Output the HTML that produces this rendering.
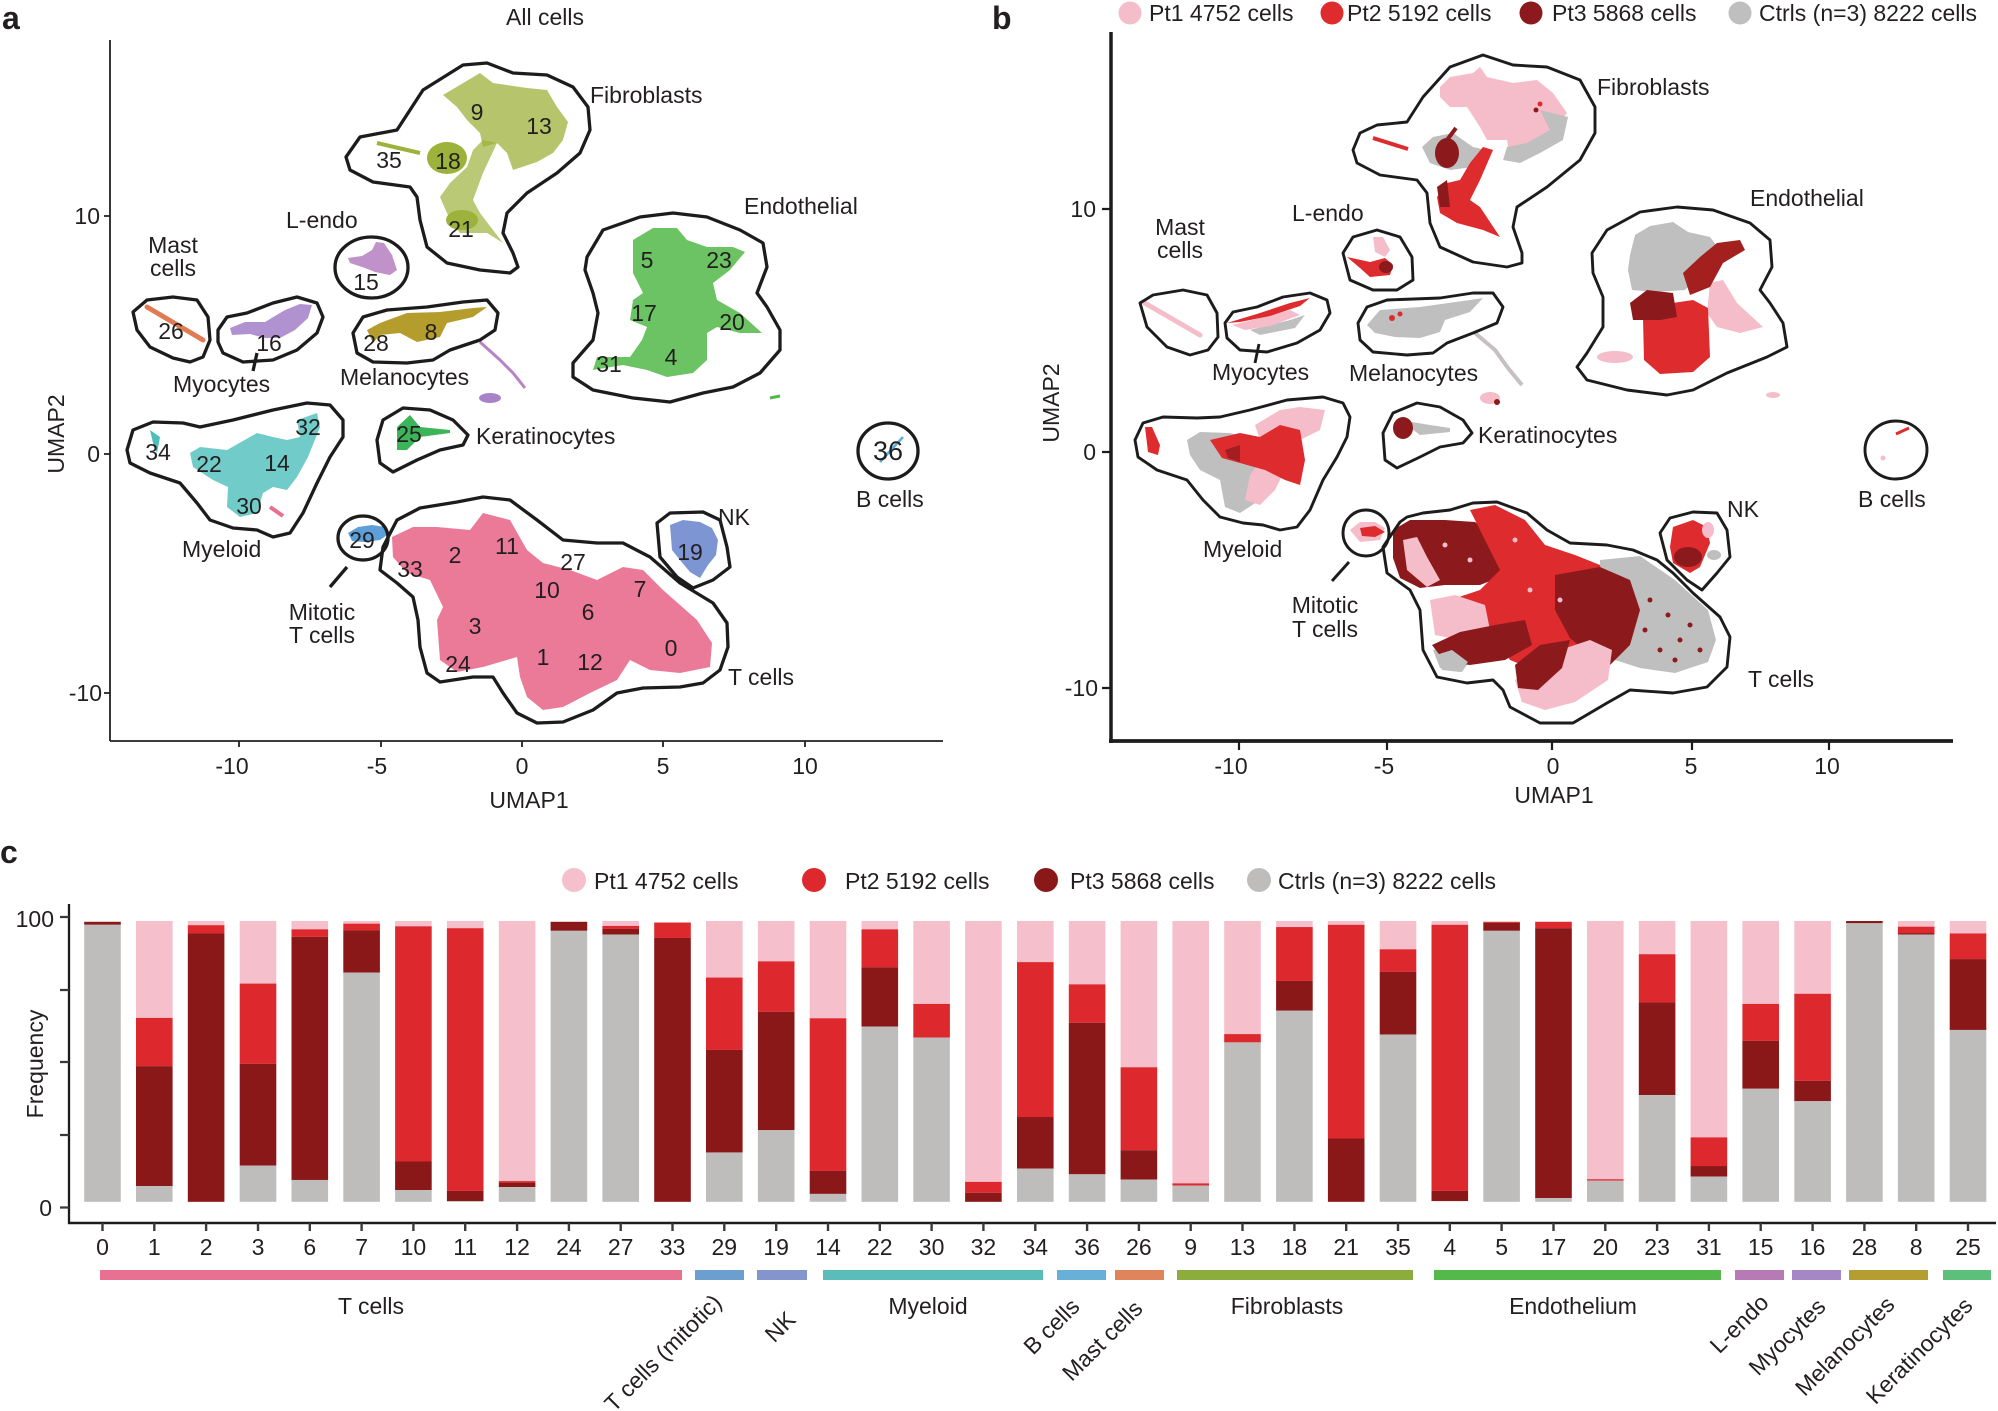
<!DOCTYPE html>
<html><head><meta charset="utf-8"><style>
html,body{margin:0;padding:0;background:#fff;}
svg{display:block;}
text{font-family:"Liberation Sans",Arial,sans-serif;fill:#231f20;font-size:23px;}
.bold{font-weight:bold;font-size:32px;}
.ol{fill:none;stroke:#1c1c1c;stroke-width:3.3;stroke-linejoin:round;}
.olb{fill:none;stroke:#1c1c1c;stroke-width:2.9;stroke-linejoin:round;}
.p{fill:#f5bfcc}.r{fill:#dd292d}.d{fill:#8a1819}.g{fill:#bebdbb}
.n text{text-anchor:middle;}
</style></head><body>
<svg width="1998" height="1411" viewBox="0 0 1998 1411" xmlns="http://www.w3.org/2000/svg">
<rect width="1998" height="1411" fill="#fff"/>

<!-- ================= PANEL A ================= -->
<text class="bold" x="2" y="29">a</text>
<text x="545" y="25" text-anchor="middle">All cells</text>

<g>
  <g fill="#9db23a">
    <polygon fill-opacity="0.75" points="443,95 480,73 493,83 527,88 547,90 557,107 568,122 563,140 553,153 537,162 513,170 507,153 497,143 483,147 480,133 467,120 457,107"/>
    <polygon fill-opacity="0.7" points="483,140 497,143 483,173 473,200 480,213 503,243 487,233 460,233 450,220 440,197 450,183 467,167 473,150"/>
    <ellipse cx="447" cy="158" rx="20" ry="16"/>
    <ellipse cx="462" cy="220" rx="16" ry="10"/>
    <line x1="377" y1="143" x2="420" y2="153" stroke="#9db23a" stroke-width="4"/>
  </g>
  <polygon fill="#52b848" fill-opacity="0.85" points="633,240 653,228 677,228 687,240 707,247 733,247 745,252 730,270 713,283 717,300 740,313 762,333 740,333 717,327 707,333 707,360 693,373 667,377 647,370 623,365 593,370 597,357 630,357 642,340 647,327 630,320 633,300 643,293 633,273"/>
  <line x1="770" y1="398" x2="780" y2="396" stroke="#52b848" stroke-width="3"/>
  <polygon fill="#b67fc0" fill-opacity="0.85" points="348,258 362,256 372,250 376,242 384,243 392,255 397,270 390,275 375,272 365,268 350,263"/>
  <polygon fill="#b59d2d" points="367,330 380,323 407,313 440,312 473,308 487,307 473,317 447,323 440,337 417,342 400,333 380,335 373,343"/>
  <polyline points="480,342 500,360 513,373 525,388" fill="none" stroke="#b882c8" stroke-width="3"/>
  <ellipse cx="490" cy="398" rx="11" ry="5" fill="#a883c8"/>
  <polygon fill="#3cb55a" points="397,427 410,415 420,427 450,430 450,433 420,437 407,450 397,450"/>
  <line x1="147" y1="307" x2="203" y2="340" stroke="#e07b53" stroke-width="5" stroke-linecap="round"/>
  <polygon fill="#a27fc9" fill-opacity="0.85" points="230,328 245,322 265,322 285,310 300,304 312,305 308,318 295,330 280,338 265,338 250,334 232,335"/>
  <polygon fill="#4dbfbb" fill-opacity="0.8" points="190,453 200,447 227,450 257,433 273,437 287,440 300,437 297,420 317,413 320,427 308,457 297,477 287,490 273,487 263,493 257,513 240,517 227,507 228,487 213,480 193,467"/>
  <polygon fill="#4dbfbb" points="150,430 160,437 157,453 153,443"/>
  <line x1="270" y1="507" x2="283" y2="516" stroke="#ea6f8e" stroke-width="4"/>
  <polygon fill="#5d9fd8" points="348,533 358,527 372,525 385,527 390,533 380,540 365,542 352,541"/>
  <polygon fill="#e96f8f" fill-opacity="0.92" points="392,537 413,527 437,527 470,530 483,513 510,520 527,550 543,563 570,570 597,580 623,567 643,570 663,590 697,620 712,643 710,667 680,673 650,670 630,660 617,680 590,693 563,707 543,710 527,697 520,677 517,657 483,667 457,672 440,660 437,620 443,607 430,580 407,573 393,557"/>
  <polygon fill="#7e95d3" points="670,525 683,520 700,522 712,528 718,540 716,555 708,565 700,578 690,572 680,560 672,550"/>
  <line x1="880" y1="462" x2="903" y2="437" stroke="#5aaedd" stroke-width="2.5"/>
</g>

<g>
  <polygon class="ol" points="346,157 360,137 397,130 423,90 463,65 487,63 513,73 547,75 573,87 588,107 590,130 580,153 557,173 527,193 507,213 503,233 513,253 518,267 510,273 480,270 447,263 427,247 420,220 417,197 410,187 373,182 350,170"/>
  <polygon class="ol" points="587,257 603,230 640,217 673,213 707,217 740,230 763,243 767,267 757,293 767,307 780,330 780,350 760,373 733,387 703,393 670,402 633,398 593,390 573,377 573,363 593,340 598,313 593,293 585,270"/>
  <ellipse class="ol" cx="371.5" cy="267.5" rx="36.5" ry="30.5"/>
  <polygon class="ol" points="133,312 147,300 173,297 197,300 208,317 210,340 203,357 190,362 173,358 150,347 137,330"/>
  <polygon class="ol" points="218,330 227,317 247,313 273,303 297,297 317,303 323,317 317,333 297,350 273,360 243,362 223,353 218,342"/>
  <polygon class="ol" points="353,333 363,317 387,310 427,307 463,302 487,300 498,313 495,330 480,340 450,350 433,360 407,363 373,362 357,353"/>
  <polygon class="ol" points="377,440 383,420 403,408 430,410 453,420 468,435 463,445 440,450 417,460 393,472 380,463"/>
  <polygon class="ol" points="127,450 133,430 153,422 183,423 200,427 233,420 273,410 307,403 330,405 343,420 343,437 330,457 317,483 303,513 290,533 273,537 257,530 233,528 210,520 197,503 180,483 150,473 130,463"/>
  <ellipse class="ol" cx="363" cy="538" rx="25" ry="22"/>
  <polygon class="ol" points="380,570 383,547 397,520 420,508 457,502 483,497 510,500 537,520 563,540 597,543 623,543 650,557 680,583 713,603 727,623 728,647 720,670 703,683 680,687 643,688 617,693 593,710 563,722 537,723 517,713 503,693 493,677 473,677 440,682 427,673 420,647 418,620 413,597 397,583"/>
  <polygon class="ol" points="657,523 670,513 703,512 720,520 727,547 730,567 713,580 693,588 677,577 660,557"/>
  <ellipse class="ol" cx="888" cy="451" rx="30" ry="28"/>
  <line class="ol" x1="257" y1="353" x2="253" y2="371"/>
  <line class="ol" x1="347" y1="567" x2="330" y2="587"/>
</g>

<text x="590" y="103">Fibroblasts</text>
<text x="744" y="214">Endothelial</text>
<text x="286" y="228">L-endo</text>
<text x="173" y="253" text-anchor="middle">Mast</text>
<text x="173" y="276" text-anchor="middle">cells</text>
<text x="173" y="392">Myocytes</text>
<text x="340" y="385">Melanocytes</text>
<text x="476" y="444">Keratinocytes</text>
<text x="182" y="557">Myeloid</text>
<text x="322" y="620" text-anchor="middle">Mitotic</text>
<text x="322" y="643" text-anchor="middle">T cells</text>
<text x="728" y="685">T cells</text>
<text x="718" y="525">NK</text>
<text x="856" y="507">B cells</text>
<text x="888" y="460" text-anchor="middle" style="font-size:27px">36</text>

<g class="n">
<text x="477" y="120">9</text><text x="539" y="134">13</text><text x="389" y="168">35</text><text x="448" y="169">18</text>
<text x="461" y="237">21</text><text x="647" y="268">5</text><text x="719" y="268">23</text><text x="644" y="321">17</text>
<text x="732" y="330">20</text><text x="609" y="372">31</text><text x="671" y="365">4</text><text x="366" y="290">15</text>
<text x="171" y="339">26</text><text x="269" y="351">16</text><text x="376" y="351">28</text><text x="431" y="340">8</text>
<text x="409" y="442">25</text><text x="158" y="460">34</text><text x="209" y="472">22</text><text x="277" y="471">14</text>
<text x="308" y="435">32</text><text x="249" y="514">30</text><text x="362" y="548">29</text><text x="455" y="563">2</text>
<text x="507" y="554">11</text><text x="410" y="577">33</text><text x="573" y="570">27</text><text x="547" y="598">10</text>
<text x="640" y="597">7</text><text x="588" y="620">6</text><text x="475" y="634">3</text><text x="671" y="656">0</text>
<text x="458" y="672">24</text><text x="543" y="665">1</text><text x="590" y="670">12</text><text x="690" y="560">19</text>
</g>

<g stroke="#231f20" stroke-width="1.8" fill="none">
  <line x1="110" y1="40" x2="110" y2="741"/>
  <line x1="110" y1="741" x2="943" y2="741"/>
  <path d="M239 741v6M381 741v6M522 741v6M663 741v6M805 741v6M104 216h6M104 454h6M104 693h6"/>
</g>
<text x="232" y="774" text-anchor="middle">-10</text>
<text x="377" y="774" text-anchor="middle">-5</text>
<text x="522" y="774" text-anchor="middle">0</text>
<text x="663" y="774" text-anchor="middle">5</text>
<text x="805" y="774" text-anchor="middle">10</text>
<text x="100" y="224" text-anchor="end">10</text>
<text x="100" y="462" text-anchor="end">0</text>
<text x="102" y="701" text-anchor="end">-10</text>
<text x="529" y="808" text-anchor="middle">UMAP1</text>
<text transform="translate(64,434) rotate(-90)" text-anchor="middle">UMAP2</text>

<!-- ================= PANEL B ================= -->
<text class="bold" x="992" y="29">b</text>
<circle cx="1130" cy="13" r="11.5" fill="#f5bdc9"/>
<text x="1149" y="21">Pt1 4752 cells</text>
<circle cx="1332" cy="13" r="11.5" fill="#dd2b2e"/>
<text x="1347" y="21">Pt2 5192 cells</text>
<circle cx="1531" cy="13" r="11.5" fill="#8c1a1c"/>
<text x="1552" y="21">Pt3 5868 cells</text>
<circle cx="1740" cy="13" r="11.5" fill="#bfbfbf"/>
<text x="1759" y="21">Ctrls (n=3) 8222 cells</text>

<g>
  <!-- fibroblasts -->
  <polygon fill="#f5bdc9" points="1440,87 1450,77 1473,73 1480,67 1487,77 1513,83 1537,80 1553,93 1567,113 1553,130 1530,147 1510,160 1507,140 1487,140 1480,127 1467,107 1450,107 1440,97"/>
  <polygon fill="#bfbfbf" points="1540,110 1568,117 1563,140 1540,153 1520,163 1503,160 1507,147 1527,143 1550,130"/>
  <polygon fill="#bfbfbf" points="1422,147 1433,137 1453,133 1473,147 1487,150 1473,167 1450,170 1430,163"/>
  <polygon fill="#dd2b2e" points="1483,147 1493,150 1480,180 1470,200 1480,207 1500,237 1483,230 1457,223 1440,213 1437,197 1447,183 1460,180 1470,163"/>
  <ellipse cx="1447" cy="153" rx="12" ry="15" fill="#8c1a1c"/>
  <line x1="1447" y1="140" x2="1456" y2="128" stroke="#8c1a1c" stroke-width="4"/>
  <polygon fill="#8c1a1c" points="1437,187 1447,180 1450,207 1440,207"/>
  <line x1="1373" y1="138" x2="1408" y2="149" stroke="#dd2b2e" stroke-width="4"/>
  <circle cx="1540" cy="104" r="2.5" fill="#dd2b2e"/><circle cx="1536" cy="110" r="2.5" fill="#8c1a1c"/>
  <!-- endothelial -->
  <polygon fill="#bfbfbf" points="1630,255 1635,235 1650,226 1673,222 1688,232 1710,237 1720,250 1712,265 1700,275 1685,290 1655,292 1632,290 1628,270"/>
  <polygon fill="#f5bdc9" points="1710,283 1723,280 1737,303 1763,327 1740,333 1717,327 1707,313"/>
  <polygon fill="#dd2b2e" points="1643,318 1673,303 1693,300 1708,308 1710,357 1693,372 1660,374 1644,360"/>
  <polygon fill="#8c1a1c" points="1630,303 1647,290 1673,293 1677,317 1660,320 1633,320"/>
  <polygon fill="#a3201f" points="1683,273 1700,257 1717,243 1740,240 1745,250 1723,263 1710,287 1690,295"/>
  <ellipse cx="1615" cy="357" rx="18" ry="6" fill="#f5bdc9"/>
  <ellipse cx="1773" cy="395" rx="7" ry="3" fill="#f5bdc9"/>
  <!-- L-endo -->
  <polygon fill="#f5bdc9" points="1373,237 1383,237 1390,250 1385,257 1375,252"/>
  <polygon fill="#dd2b2e" points="1347,257 1370,262 1385,258 1393,265 1390,275 1370,277 1360,268"/>
  <ellipse cx="1386" cy="267" rx="7" ry="6" fill="#8c1a1c"/>
  <!-- mast -->
  <line x1="1143" y1="302" x2="1200" y2="335" stroke="#f5bdc9" stroke-width="5" stroke-linecap="round"/>
  <!-- myocytes -->
  <polygon fill="#bfbfbf" points="1250,330 1290,320 1305,315 1295,328 1260,335"/>
  <polygon fill="#f5bdc9" points="1232,325 1260,318 1290,310 1300,315 1270,326 1245,330"/>
  <polygon fill="#dd2b2e" points="1227,323 1260,313 1290,303 1310,298 1300,306 1270,316 1240,322"/>
  <!-- melanocytes -->
  <polygon fill="#bfbfbf" points="1367,325 1380,310 1420,307 1470,300 1483,298 1470,312 1445,320 1440,332 1420,338 1395,337 1375,333"/>
  <circle cx="1392" cy="318" r="3" fill="#dd2b2e"/><circle cx="1400" cy="314" r="2.5" fill="#dd2b2e"/>
  <polyline points="1475,333 1495,350 1508,368 1522,385" fill="none" stroke="#c7c0c0" stroke-width="4"/>
  <ellipse cx="1490" cy="398" rx="10" ry="6" fill="#f5bdc9"/>
  <circle cx="1497" cy="402" r="3" fill="#8c1a1c"/>
  <!-- keratinocytes -->
  <polygon fill="#bfbfbf" points="1400,420 1430,425 1450,428 1450,432 1420,435"/>
  <ellipse cx="1403" cy="428" rx="10" ry="11" fill="#8c1a1c"/>
  <!-- myeloid -->
  <polygon fill="#bfbfbf" points="1187,440 1200,432 1230,433 1255,440 1270,470 1260,500 1240,513 1225,507 1220,480 1200,470 1190,455"/>
  <polygon fill="#f5bdc9" points="1255,425 1280,410 1300,407 1325,410 1320,430 1300,440 1290,460 1275,490 1260,505 1245,500 1250,475 1265,455"/>
  <polygon fill="#dd2b2e" points="1210,440 1240,433 1260,437 1280,425 1300,430 1305,460 1300,485 1285,480 1265,470 1240,463 1222,458"/>
  <polygon fill="#8c1a1c" fill-opacity="0.7" points="1225,450 1240,445 1240,462 1228,458"/>
  <polygon fill="#dd2b2e" points="1145,427 1152,427 1160,445 1158,455 1148,452"/>
  <!-- mitotic -->
  <polygon fill="#f5bdc9" points="1350,530 1360,522 1375,522 1385,528 1380,540 1360,542"/>
  <polygon fill="#dd2b2e" points="1360,528 1375,526 1385,532 1375,537 1362,536"/>
  <!-- T cells -->
  <polygon fill="#bfbfbf" points="1600,560 1640,556 1675,580 1708,610 1716,640 1708,662 1675,673 1640,668 1615,660 1600,620"/>
  <polygon fill="#bfbfbf" points="1433,650 1450,645 1470,660 1462,672 1440,668"/>
  <polygon fill="#8c1a1c" points="1393,530 1410,520 1445,520 1475,522 1500,540 1505,575 1480,585 1445,585 1420,588 1400,578 1393,558"/>
  <polygon fill="#f5bdc9" points="1403,540 1417,537 1427,557 1440,580 1427,587 1407,570"/>
  <polygon fill="#dd2b2e" points="1470,510 1495,505 1525,520 1545,545 1575,555 1600,565 1605,600 1590,640 1560,660 1530,668 1510,660 1490,630 1470,615 1450,600 1480,590 1500,570 1485,540"/>
  <polygon fill="#8c1a1c" points="1555,575 1600,567 1630,580 1640,610 1630,645 1610,665 1590,655 1570,638 1555,610"/>
  <polygon fill="#f5bdc9" points="1430,600 1455,595 1485,605 1490,630 1460,640 1435,635"/>
  <polygon fill="#8c1a1c" points="1432,645 1460,632 1495,625 1525,620 1532,645 1505,660 1470,665 1445,662"/>
  <polygon fill="#bfbfbf" points="1436,655 1452,650 1468,662 1460,672 1442,670"/>
  <polygon fill="#f5bdc9" points="1515,680 1545,655 1590,640 1612,650 1608,680 1575,702 1545,710 1522,702"/>
  <polygon fill="#8c1a1c" points="1515,665 1540,645 1570,640 1562,668 1538,690 1518,688"/>
  <g fill="#8c1a1c">
    <circle cx="1650" cy="600" r="2.5"/><circle cx="1668" cy="615" r="2.5"/><circle cx="1680" cy="640" r="2.5"/>
    <circle cx="1690" cy="625" r="2.5"/><circle cx="1660" cy="650" r="2.5"/><circle cx="1700" cy="650" r="2.5"/>
    <circle cx="1645" cy="630" r="2.5"/><circle cx="1675" cy="660" r="2.5"/>
  </g>
  <g fill="#f5bdc9">
    <circle cx="1470" cy="560" r="2.5"/><circle cx="1530" cy="590" r="2.5"/><circle cx="1560" cy="600" r="2.5"/>
    <circle cx="1515" cy="540" r="2.5"/><circle cx="1445" cy="545" r="2.5"/>
  </g>
  <!-- NK -->
  <polygon fill="#dd2b2e" points="1673,527 1693,520 1707,527 1710,543 1700,567 1690,573 1673,563 1670,547"/>
  <ellipse cx="1688" cy="557" rx="14" ry="10" fill="#8c1a1c"/>
  <ellipse cx="1708" cy="530" rx="6" ry="8" fill="#f5bdc9"/>
  <ellipse cx="1714" cy="555" rx="7" ry="5" fill="#bfbfbf"/>
  <!-- B -->
  <line x1="1896" y1="434" x2="1909" y2="428" stroke="#dd2b2e" stroke-width="3"/>
  <circle cx="1883" cy="458" r="2.5" fill="#f5bdc9"/>
</g>

<g>
  <polygon class="olb" points="1353,150 1360,133 1377,125 1407,122 1423,97 1450,67 1483,55 1513,65 1547,67 1580,80 1595,107 1595,133 1580,160 1547,187 1517,207 1513,227 1522,253 1522,263 1507,267 1473,262 1440,247 1430,223 1427,193 1417,180 1380,175 1357,163"/>
  <polygon class="olb" points="1592,253 1607,230 1640,212 1677,207 1713,210 1750,223 1770,240 1772,267 1760,290 1770,303 1783,323 1787,347 1767,357 1727,373 1693,390 1667,395 1627,390 1587,380 1577,367 1587,353 1603,327 1603,297 1593,273"/>
  <polygon class="olb" points="1343,253 1353,237 1377,230 1400,237 1412,257 1413,280 1397,290 1373,290 1350,280"/>
  <polygon class="olb" points="1140,303 1153,295 1183,290 1207,295 1217,313 1218,337 1208,350 1190,355 1167,347 1147,327"/>
  <polygon class="olb" points="1225,323 1233,312 1257,307 1283,297 1310,293 1327,300 1330,313 1320,330 1297,343 1267,352 1240,350 1227,338"/>
  <polygon class="olb" points="1358,323 1367,307 1387,300 1440,298 1473,293 1493,293 1503,307 1497,323 1473,333 1447,343 1433,353 1407,355 1373,352 1360,340"/>
  <polygon class="olb" points="1383,433 1393,413 1417,403 1440,407 1463,420 1472,433 1463,443 1440,447 1420,457 1397,468 1385,460"/>
  <polygon class="olb" points="1135,440 1143,423 1163,417 1197,418 1220,417 1250,410 1287,400 1323,397 1343,403 1350,417 1347,437 1337,457 1323,480 1310,510 1297,527 1280,530 1263,525 1243,523 1220,517 1203,500 1187,480 1157,470 1138,457"/>
  <ellipse class="olb" cx="1366" cy="533" rx="23" ry="23"/>
  <polygon class="olb" points="1400,522 1383,547 1387,573 1410,590 1420,610 1423,650 1437,677 1467,683 1493,680 1503,690 1510,707 1540,723 1573,723 1607,703 1630,690 1673,693 1707,687 1727,667 1730,637 1720,617 1693,593 1673,573 1657,560 1633,550 1607,545 1570,543 1547,530 1527,513 1497,502 1473,503 1450,510 1423,513 1407,517"/>
  <polygon class="olb" points="1660,533 1670,518 1693,512 1717,513 1727,530 1730,557 1717,573 1702,590 1687,580 1667,560"/>
  <ellipse class="olb" cx="1896" cy="450" rx="31" ry="29"/>
  <line class="olb" x1="1259" y1="344" x2="1255" y2="363"/>
  <line class="olb" x1="1349" y1="562" x2="1332" y2="581"/>
</g>

<text x="1597" y="95">Fibroblasts</text>
<text x="1750" y="206">Endothelial</text>
<text x="1292" y="221">L-endo</text>
<text x="1180" y="235" text-anchor="middle">Mast</text>
<text x="1180" y="258" text-anchor="middle">cells</text>
<text x="1212" y="380">Myocytes</text>
<text x="1349" y="381">Melanocytes</text>
<text x="1478" y="443">Keratinocytes</text>
<text x="1203" y="557">Myeloid</text>
<text x="1325" y="613" text-anchor="middle">Mitotic</text>
<text x="1325" y="637" text-anchor="middle">T cells</text>
<text x="1748" y="687">T cells</text>
<text x="1727" y="517">NK</text>
<text x="1858" y="507">B cells</text>

<g stroke="#1c1c1c" fill="none">
  <line x1="1111" y1="32" x2="1111" y2="743" stroke-width="3.5"/>
  <line x1="1109" y1="741" x2="1953" y2="741" stroke-width="3.8"/>
  <path stroke-width="2.2" d="M1239 741v9M1387 741v9M1552 741v9M1692 741v9M1829 741v9M1102 209h9M1102 452h9M1102 688h9"/>
</g>
<text x="1231" y="774" text-anchor="middle">-10</text>
<text x="1384" y="774" text-anchor="middle">-5</text>
<text x="1553" y="774" text-anchor="middle">0</text>
<text x="1691" y="774" text-anchor="middle">5</text>
<text x="1827" y="774" text-anchor="middle">10</text>
<text x="1096" y="217" text-anchor="end">10</text>
<text x="1096" y="460" text-anchor="end">0</text>
<text x="1098" y="696" text-anchor="end">-10</text>
<text x="1554" y="803" text-anchor="middle">UMAP1</text>
<text transform="translate(1059,403) rotate(-90)" text-anchor="middle">UMAP2</text>

<!-- ================= PANEL C ================= -->
<text class="bold" x="0" y="863">c</text>
<circle cx="574" cy="880" r="12" fill="#f5bfcc"/>
<text x="594" y="889">Pt1 4752 cells</text>
<circle cx="814" cy="880" r="12" fill="#dd292d"/>
<text x="845" y="889">Pt2 5192 cells</text>
<circle cx="1046" cy="880" r="12" fill="#8a1819"/>
<text x="1070" y="889">Pt3 5868 cells</text>
<circle cx="1259" cy="880" r="12" fill="#bebdbb"/>
<text x="1278" y="889">Ctrls (n=3) 8222 cells</text>

<g transform="translate(0,820) scale(1,0.37693)">
<rect class="d" x="84.2" y="270" width="36.6" height="8"/><rect class="g" x="84.2" y="278" width="36.6" height="735"/>
<rect class="p" x="136.0" y="268" width="36.6" height="257"/><rect class="r" x="136.0" y="525" width="36.6" height="128"/><rect class="d" x="136.0" y="653" width="36.6" height="318"/><rect class="g" x="136.0" y="971" width="36.6" height="42"/>
<rect class="p" x="187.8" y="268" width="36.6" height="11"/><rect class="r" x="187.8" y="279" width="36.6" height="22"/><rect class="d" x="187.8" y="301" width="36.6" height="712"/>
<rect class="p" x="239.7" y="268" width="36.6" height="166"/><rect class="r" x="239.7" y="434" width="36.6" height="213"/><rect class="d" x="239.7" y="647" width="36.6" height="270"/><rect class="g" x="239.7" y="917" width="36.6" height="96"/>
<rect class="p" x="291.5" y="268" width="36.6" height="22"/><rect class="r" x="291.5" y="290" width="36.6" height="20"/><rect class="d" x="291.5" y="310" width="36.6" height="645"/><rect class="g" x="291.5" y="955" width="36.6" height="58"/>
<rect class="p" x="343.3" y="268" width="36.6" height="7"/><rect class="r" x="343.3" y="275" width="36.6" height="18"/><rect class="d" x="343.3" y="293" width="36.6" height="112"/><rect class="g" x="343.3" y="405" width="36.6" height="608"/>
<rect class="p" x="395.1" y="268" width="36.6" height="14"/><rect class="r" x="395.1" y="282" width="36.6" height="624"/><rect class="d" x="395.1" y="906" width="36.6" height="76"/><rect class="g" x="395.1" y="982" width="36.6" height="31"/>
<rect class="p" x="446.9" y="268" width="36.6" height="19"/><rect class="r" x="446.9" y="287" width="36.6" height="697"/><rect class="d" x="446.9" y="984" width="36.6" height="27"/><rect class="g" x="446.9" y="1011" width="36.6" height="2"/>
<rect class="p" x="498.8" y="268" width="36.6" height="690"/><rect class="r" x="498.8" y="958" width="36.6" height="4"/><rect class="d" x="498.8" y="962" width="36.6" height="12"/><rect class="g" x="498.8" y="974" width="36.6" height="39"/>
<rect class="d" x="550.6" y="270" width="36.6" height="24"/><rect class="g" x="550.6" y="294" width="36.6" height="719"/>
<rect class="p" x="602.4" y="268" width="36.6" height="13"/><rect class="r" x="602.4" y="281" width="36.6" height="8"/><rect class="d" x="602.4" y="289" width="36.6" height="15"/><rect class="g" x="602.4" y="304" width="36.6" height="709"/>
<rect class="r" x="654.2" y="272" width="36.6" height="41"/><rect class="d" x="654.2" y="313" width="36.6" height="700"/>
<rect class="p" x="706.0" y="268" width="36.6" height="150"/><rect class="r" x="706.0" y="418" width="36.6" height="192"/><rect class="d" x="706.0" y="610" width="36.6" height="272"/><rect class="g" x="706.0" y="882" width="36.6" height="131"/>
<rect class="p" x="757.9" y="268" width="36.6" height="107"/><rect class="r" x="757.9" y="375" width="36.6" height="134"/><rect class="d" x="757.9" y="509" width="36.6" height="314"/><rect class="g" x="757.9" y="823" width="36.6" height="190"/>
<rect class="p" x="809.7" y="268" width="36.6" height="258"/><rect class="r" x="809.7" y="526" width="36.6" height="405"/><rect class="d" x="809.7" y="931" width="36.6" height="61"/><rect class="g" x="809.7" y="992" width="36.6" height="21"/>
<rect class="p" x="861.5" y="268" width="36.6" height="22"/><rect class="r" x="861.5" y="290" width="36.6" height="101"/><rect class="d" x="861.5" y="391" width="36.6" height="157"/><rect class="g" x="861.5" y="548" width="36.6" height="465"/>
<rect class="p" x="913.3" y="268" width="36.6" height="220"/><rect class="r" x="913.3" y="488" width="36.6" height="89"/><rect class="g" x="913.3" y="577" width="36.6" height="436"/>
<rect class="p" x="965.1" y="268" width="36.6" height="692"/><rect class="r" x="965.1" y="960" width="36.6" height="29"/><rect class="d" x="965.1" y="989" width="36.6" height="24"/>
<rect class="p" x="1017.0" y="268" width="36.6" height="109"/><rect class="r" x="1017.0" y="377" width="36.6" height="411"/><rect class="d" x="1017.0" y="788" width="36.6" height="137"/><rect class="g" x="1017.0" y="925" width="36.6" height="88"/>
<rect class="p" x="1068.8" y="268" width="36.6" height="168"/><rect class="r" x="1068.8" y="436" width="36.6" height="102"/><rect class="d" x="1068.8" y="538" width="36.6" height="402"/><rect class="g" x="1068.8" y="940" width="36.6" height="73"/>
<rect class="p" x="1120.6" y="268" width="36.6" height="388"/><rect class="r" x="1120.6" y="656" width="36.6" height="220"/><rect class="d" x="1120.6" y="876" width="36.6" height="78"/><rect class="g" x="1120.6" y="954" width="36.6" height="59"/>
<rect class="p" x="1172.4" y="268" width="36.6" height="696"/><rect class="r" x="1172.4" y="964" width="36.6" height="6"/><rect class="g" x="1172.4" y="970" width="36.6" height="43"/>
<rect class="p" x="1224.2" y="268" width="36.6" height="300"/><rect class="r" x="1224.2" y="568" width="36.6" height="22"/><rect class="g" x="1224.2" y="590" width="36.6" height="423"/>
<rect class="p" x="1276.1" y="268" width="36.6" height="16"/><rect class="r" x="1276.1" y="284" width="36.6" height="143"/><rect class="d" x="1276.1" y="427" width="36.6" height="79"/><rect class="g" x="1276.1" y="506" width="36.6" height="507"/>
<rect class="p" x="1327.9" y="268" width="36.6" height="10"/><rect class="r" x="1327.9" y="278" width="36.6" height="567"/><rect class="d" x="1327.9" y="845" width="36.6" height="168"/>
<rect class="p" x="1379.7" y="268" width="36.6" height="75"/><rect class="r" x="1379.7" y="343" width="36.6" height="60"/><rect class="d" x="1379.7" y="403" width="36.6" height="166"/><rect class="g" x="1379.7" y="569" width="36.6" height="444"/>
<rect class="p" x="1431.5" y="268" width="36.6" height="10"/><rect class="r" x="1431.5" y="278" width="36.6" height="706"/><rect class="d" x="1431.5" y="984" width="36.6" height="27"/>
<rect class="r" x="1483.3" y="270" width="36.6" height="3"/><rect class="d" x="1483.3" y="273" width="36.6" height="21"/><rect class="g" x="1483.3" y="294" width="36.6" height="719"/>
<rect class="r" x="1535.2" y="270" width="36.6" height="17"/><rect class="d" x="1535.2" y="287" width="36.6" height="716"/><rect class="g" x="1535.2" y="1003" width="36.6" height="10"/>
<rect class="p" x="1587.0" y="268" width="36.6" height="685"/><rect class="r" x="1587.0" y="953" width="36.6" height="4"/><rect class="g" x="1587.0" y="957" width="36.6" height="56"/>
<rect class="p" x="1638.8" y="268" width="36.6" height="88"/><rect class="r" x="1638.8" y="356" width="36.6" height="128"/><rect class="d" x="1638.8" y="484" width="36.6" height="246"/><rect class="g" x="1638.8" y="730" width="36.6" height="283"/>
<rect class="p" x="1690.6" y="268" width="36.6" height="574"/><rect class="r" x="1690.6" y="842" width="36.6" height="76"/><rect class="d" x="1690.6" y="918" width="36.6" height="28"/><rect class="g" x="1690.6" y="946" width="36.6" height="67"/>
<rect class="p" x="1742.4" y="268" width="36.6" height="220"/><rect class="r" x="1742.4" y="488" width="36.6" height="98"/><rect class="d" x="1742.4" y="586" width="36.6" height="127"/><rect class="g" x="1742.4" y="713" width="36.6" height="300"/>
<rect class="p" x="1794.3" y="268" width="36.6" height="193"/><rect class="r" x="1794.3" y="461" width="36.6" height="231"/><rect class="d" x="1794.3" y="692" width="36.6" height="54"/><rect class="g" x="1794.3" y="746" width="36.6" height="267"/>
<rect class="d" x="1846.1" y="268" width="36.6" height="6"/><rect class="g" x="1846.1" y="274" width="36.6" height="739"/>
<rect class="p" x="1897.9" y="268" width="36.6" height="15"/><rect class="r" x="1897.9" y="283" width="36.6" height="17"/><rect class="d" x="1897.9" y="300" width="36.6" height="4"/><rect class="g" x="1897.9" y="304" width="36.6" height="709"/>
<rect class="p" x="1949.7" y="268" width="36.6" height="33"/><rect class="r" x="1949.7" y="301" width="36.6" height="68"/><rect class="d" x="1949.7" y="369" width="36.6" height="188"/><rect class="g" x="1949.7" y="557" width="36.6" height="456"/>
</g>

<g fill="none">
  <line x1="69" y1="904" x2="69" y2="1224" stroke="#1c1c1c" stroke-width="2.3"/>
  <line x1="68" y1="1223" x2="1996" y2="1223" stroke="#1c1c1c" stroke-width="2.5"/>
  <path stroke="#3a3a3a" stroke-width="2.2" d="M60 917h9M60 990h9M60 1062h9M60 1135h9M60 1207.5h9"/>
  <path stroke="#3a3a3a" stroke-width="2.4" d="M102.5 1223v8M154.3 1223v8M206.1 1223v8M258 1223v8M309.8 1223v8M361.6 1223v8M413.4 1223v8M465.2 1223v8M517.1 1223v8M568.9 1223v8M620.7 1223v8M672.5 1223v8M724.3 1223v8M776.2 1223v8M828 1223v8M879.8 1223v8M931.6 1223v8M983.4 1223v8M1035.3 1223v8M1087.1 1223v8M1138.9 1223v8M1190.7 1223v8M1242.5 1223v8M1294.4 1223v8M1346.2 1223v8M1398 1223v8M1449.8 1223v8M1501.6 1223v8M1553.5 1223v8M1605.3 1223v8M1657.1 1223v8M1708.9 1223v8M1760.7 1223v8M1812.6 1223v8M1864.4 1223v8M1916.2 1223v8M1968 1223v8"/>
</g>
<text x="54" y="927" text-anchor="end">100</text>
<text x="52" y="1216" text-anchor="end">0</text>
<text transform="translate(43,1064) rotate(-90)" text-anchor="middle">Frequency</text>

<g>
<text x="102.5" y="1255" text-anchor="middle">0</text><text x="154.3" y="1255" text-anchor="middle">1</text><text x="206.1" y="1255" text-anchor="middle">2</text><text x="258" y="1255" text-anchor="middle">3</text>
<text x="309.8" y="1255" text-anchor="middle">6</text><text x="361.6" y="1255" text-anchor="middle">7</text><text x="413.4" y="1255" text-anchor="middle">10</text><text x="465.2" y="1255" text-anchor="middle">11</text>
<text x="517.1" y="1255" text-anchor="middle">12</text><text x="568.9" y="1255" text-anchor="middle">24</text><text x="620.7" y="1255" text-anchor="middle">27</text><text x="672.5" y="1255" text-anchor="middle">33</text>
<text x="724.3" y="1255" text-anchor="middle">29</text><text x="776.2" y="1255" text-anchor="middle">19</text><text x="828" y="1255" text-anchor="middle">14</text><text x="879.8" y="1255" text-anchor="middle">22</text>
<text x="931.6" y="1255" text-anchor="middle">30</text><text x="983.4" y="1255" text-anchor="middle">32</text><text x="1035.3" y="1255" text-anchor="middle">34</text><text x="1087.1" y="1255" text-anchor="middle">36</text>
<text x="1138.9" y="1255" text-anchor="middle">26</text><text x="1190.7" y="1255" text-anchor="middle">9</text><text x="1242.5" y="1255" text-anchor="middle">13</text><text x="1294.4" y="1255" text-anchor="middle">18</text>
<text x="1346.2" y="1255" text-anchor="middle">21</text><text x="1398" y="1255" text-anchor="middle">35</text><text x="1449.8" y="1255" text-anchor="middle">4</text><text x="1501.6" y="1255" text-anchor="middle">5</text>
<text x="1553.5" y="1255" text-anchor="middle">17</text><text x="1605.3" y="1255" text-anchor="middle">20</text><text x="1657.1" y="1255" text-anchor="middle">23</text><text x="1708.9" y="1255" text-anchor="middle">31</text>
<text x="1760.7" y="1255" text-anchor="middle">15</text><text x="1812.6" y="1255" text-anchor="middle">16</text><text x="1864.4" y="1255" text-anchor="middle">28</text><text x="1916.2" y="1255" text-anchor="middle">8</text>
<text x="1968" y="1255" text-anchor="middle">25</text>
</g>

<rect x="100" y="1270" width="582" height="10" fill="#e87090"/>
<rect x="695" y="1270" width="49" height="10" fill="#6a9fd0"/>
<rect x="757" y="1270" width="50" height="10" fill="#8494cc"/>
<rect x="823" y="1270" width="220" height="10" fill="#5bbdb9"/>
<rect x="1057" y="1270" width="49" height="10" fill="#68b0d8"/>
<rect x="1115" y="1270" width="49" height="10" fill="#e0845c"/>
<rect x="1177" y="1270" width="236" height="10" fill="#8aad3e"/>
<rect x="1434" y="1270" width="287" height="10" fill="#55b84a"/>
<rect x="1735" y="1270" width="49" height="10" fill="#b87ab5"/>
<rect x="1792" y="1270" width="49" height="10" fill="#a487c4"/>
<rect x="1849" y="1270" width="79" height="10" fill="#b59d32"/>
<rect x="1943" y="1270" width="48" height="10" fill="#5cbf7a"/>

<text x="371" y="1314" text-anchor="middle">T cells</text>
<text x="928" y="1314" text-anchor="middle">Myeloid</text>
<text x="1287" y="1314" text-anchor="middle">Fibroblasts</text>
<text x="1573" y="1314" text-anchor="middle">Endothelium</text>

<text transform="translate(723,1304) rotate(-45)" text-anchor="end">T cells (mitotic)</text>
<text transform="translate(797,1321) rotate(-45)" text-anchor="end">NK</text>
<text transform="translate(1081,1308) rotate(-45)" text-anchor="end">B cells</text>
<text transform="translate(1144,1310) rotate(-45)" text-anchor="end">Mast cells</text>
<text transform="translate(1770,1304) rotate(-45)" text-anchor="end">L-endo</text>
<text transform="translate(1827,1308) rotate(-45)" text-anchor="end">Myocytes</text>
<text transform="translate(1896,1306) rotate(-45)" text-anchor="end">Melanocytes</text>
<text transform="translate(1974,1307) rotate(-45)" text-anchor="end">Keratinocytes</text>
</svg>
</body></html>
